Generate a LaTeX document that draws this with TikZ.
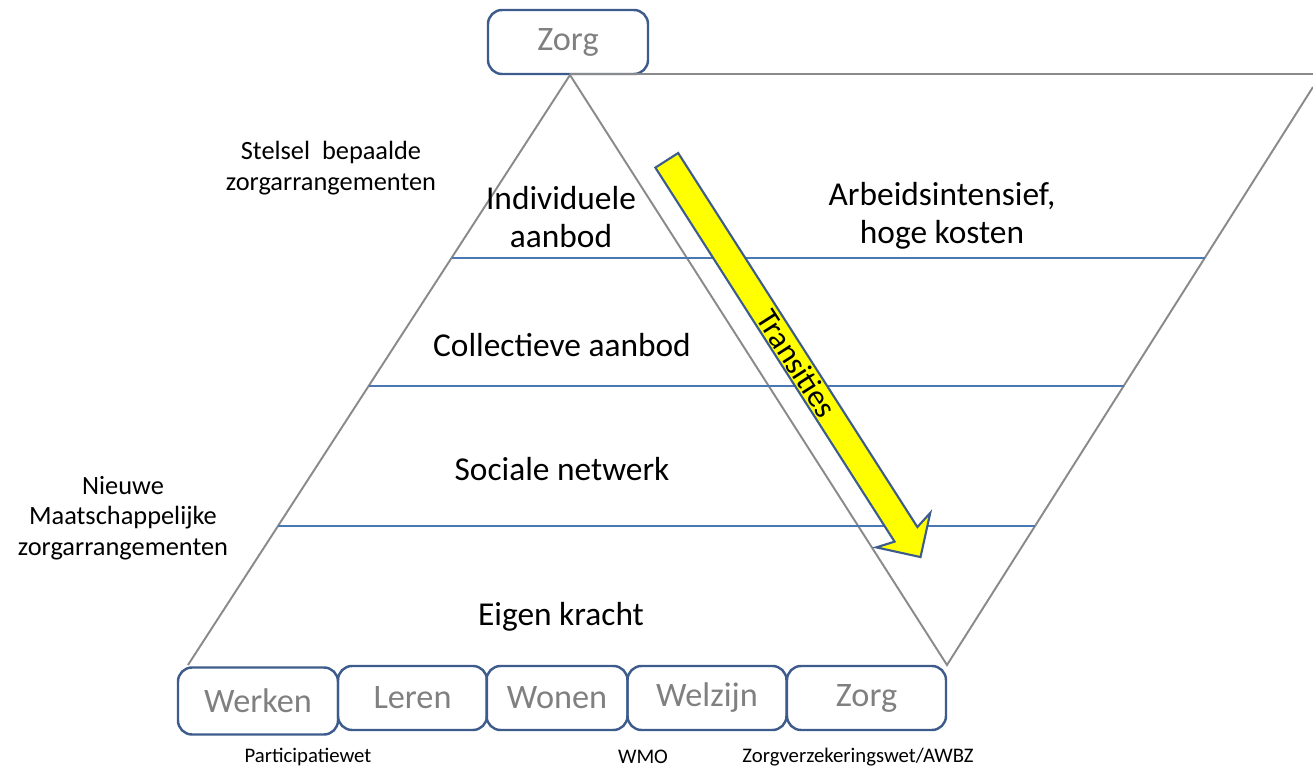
\documentclass[tikz,border=0pt]{standalone}
\usepackage{fontspec}
\setmainfont{Carlito}
\usepackage{xcolor}
\usepackage{tikz}
\usetikzlibrary{positioning,shapes.arrows}

\definecolor{boxblue}{HTML}{3D5C8C}
\definecolor{lineblue}{HTML}{4A78B2}
\definecolor{edgegray}{HTML}{8A8A8A}
\definecolor{labelgray}{HTML}{808080}
\definecolor{arrowyellow}{HTML}{FFFF00}

\begin{document}
\begin{tikzpicture}[x=0.2mm, y=-0.2mm,
  layer/.style={inner sep=0pt, align=center, font=\fontsize{19}{21.6}\selectfont},
  side/.style={inner sep=0pt, align=center, font=\fontsize{15}{17.5}\selectfont},
  law/.style={inner sep=0pt, font=\fontsize{11.8}{14}\selectfont},
  areabox/.style={draw=boxblue, line width=1.4pt, rounded corners=8pt, text=labelgray,
    minimum height=1.28cm, inner sep=0pt, font=\fontsize{19.5}{22}\selectfont}]
\useasboundingbox (0,0) rectangle (1313,769);

% Corner points of triangle and slanted band
\coordinate (apex) at (570,75);
\coordinate (bl) at (188,665);
\coordinate (br) at (947,665);
\coordinate (tr) at (1313,87);
\coordinate (tend) at (1313,74);

% Top box
\node[areabox, minimum width=3.2cm] (topzorg) at (568,42) {Zorg};

% Triangle and band outline
\draw[edgegray, line width=1.1pt] (bl) -- (apex) -- (br) -- (tr);
\draw[edgegray, line width=1.6pt] (apex |- 0,74) -- (tend);

% Layer lines
\foreach \y in {258,386,526}
  \draw[lineblue, line width=1.2pt] ({570-(\y-75)*0.6475},\y) -- ({947+(665-\y)*0.6349},\y);

% Layer texts
\node[layer] (indiv) at (561,217) {Individuele\\aanbod};
\node[layer] (coll) at (562,345) {Collectieve aanbod};
\node[layer] (soc) at (562,469) {Sociale netwerk};
\node[layer] (eigen) at (561,617) {Eigen kracht};
\node[layer] (arbeid) at (942,216) {Arbeidsintensief,\\hoge kosten};

% Side texts
\node[side] (stelsel) at (331,168) {Stelsel\ \ bepaalde\\zorgarrangementen};
\node[side] (nieuw) at (123,518) {Nieuwe\\Maatschappelijke\\zorgarrangementen};

% Transition arrow
\node[single arrow, draw=boxblue, fill=arrowyellow, line width=1.2pt, rotate=-57.4,
  minimum height=9.42cm, minimum width=1.28cm, single arrow head extend=0.33cm,
  single arrow head indent=0.1cm, inner sep=0pt,
  font=\fontsize{18}{20}\selectfont] (trans) at (790,353) {\hspace{0.5cm}Transities};

% Bottom boxes
\node[areabox, minimum width=3.2cm, minimum height=1.34cm] (werken) at (258,701) {Werken};
\node[areabox, minimum width=2.98cm] (leren) at (412.5,698) {Leren};
\node[areabox, minimum width=2.82cm] (wonen) at (557,698) {Wonen};
\node[areabox, minimum width=3.18cm] (welzijn) at (707,698) {Welzijn};
\node[areabox, minimum width=3.18cm] (zorg) at (866.5,698) {Zorg};

% Laws
\node[law] (partw) at (308,757) {Participatiewet};
\node[law] (wmo) at (643,757) {WMO};
\node[law] (zvw) at (858,757) {Zorgverzekeringswet/AWBZ};

\end{tikzpicture}
\end{document}
